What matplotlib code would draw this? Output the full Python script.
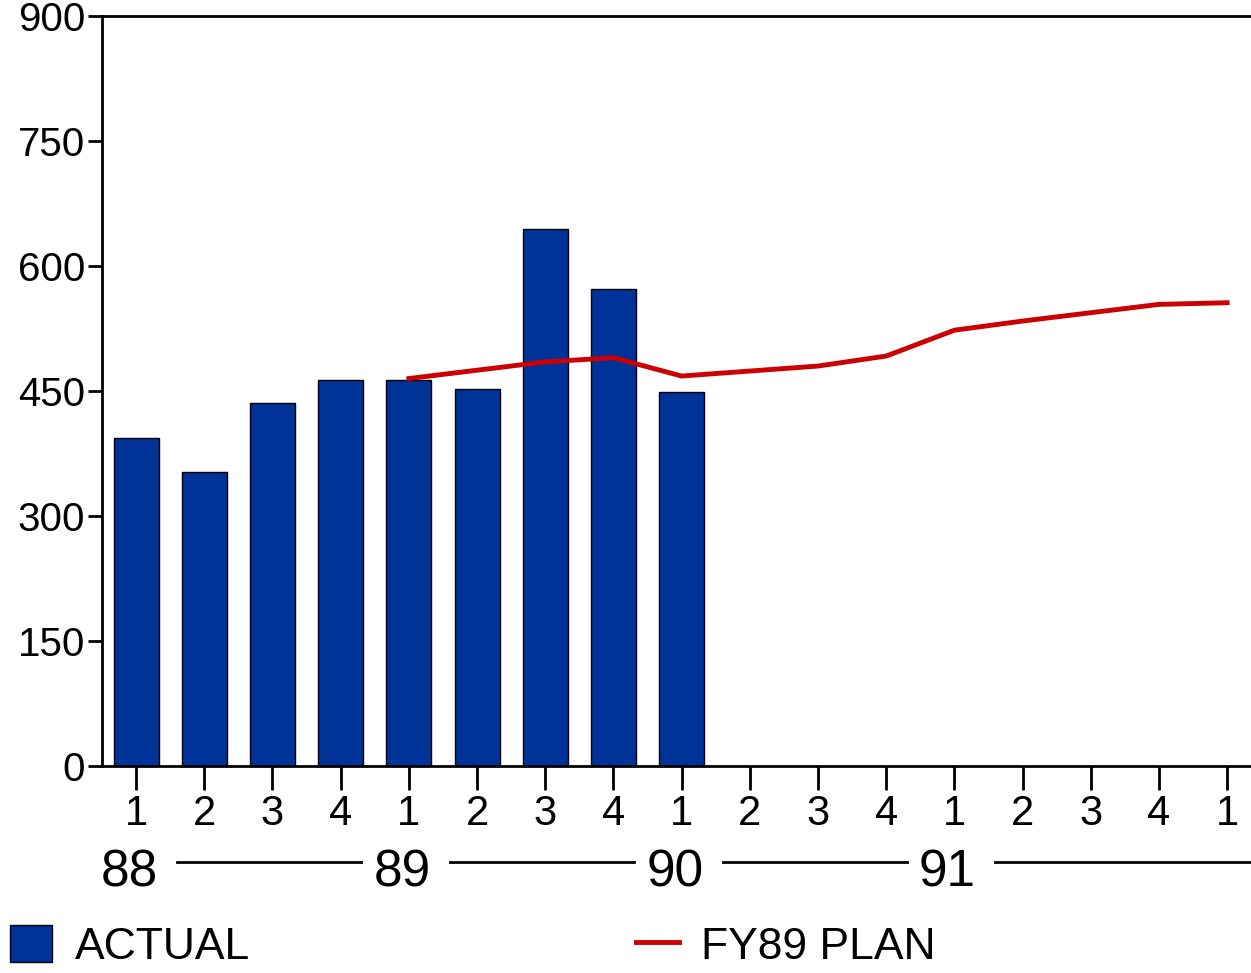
import matplotlib.pyplot as plt
from matplotlib.lines import Line2D
from matplotlib.patches import Patch
from matplotlib.transforms import blended_transform_factory

plt.rcParams["font.family"] = ["Liberation Sans Narrow", "Liberation Sans", "DejaVu Sans"]

# quarterly series, FY88 Q1 .. FY92 Q1
quarters = ["1", "2", "3", "4", "1", "2", "3", "4", "1", "2", "3", "4", "1", "2", "3", "4", "1"]
years = ["88", "89", "90", "91"]
year_start = [1, 5, 9, 13]

actual = [394, 353, 436, 463, 463, 453, 644, 572, 449]
plan_x = [5, 6, 7, 8, 9, 10, 11, 12, 13, 14, 15, 16, 17]
plan = [465, 475, 485, 490, 468, 474, 480, 492, 523, 534, 544, 554, 556]

BLUE = "#003399"
RED = "#cc0000"

fig = plt.figure(figsize=(12.51, 9.73), dpi=100)
ax = fig.add_axes([0.0815, 0.2127, 0.9267, 0.7708])

xs = list(range(1, len(quarters) + 1))
ax.bar(xs[:len(actual)], actual, width=0.66, color=BLUE, edgecolor="black", linewidth=1, zorder=2)
ax.plot(plan_x, plan, color=RED, linewidth=3.5, zorder=3)

ax.set_xlim(0.5, 17.5)
ax.set_ylim(0, 900)
ax.set_yticks(range(0, 901, 150))
ax.set_xticks(xs)
ax.set_xticklabels(quarters)

for side in ["left", "top", "bottom", "right"]:
    ax.spines[side].set_linewidth(2)
ax.tick_params(axis="y", direction="out", length=10, width=2, labelsize=29, pad=2)
ax.tick_params(axis="x", direction="out", length=17, width=2, labelsize=30, pad=3)

# fiscal year row with rules between the labels
trans = blended_transform_factory(ax.transData, ax.transAxes)
for yr, x0 in zip(years, year_start):
    ax.text(x0 - 0.1, -0.142, yr, transform=trans, ha="center", va="center",
            fontsize=37, clip_on=False)
for i, x0 in enumerate(year_start):
    x1 = x0 + 3.3 if i < len(year_start) - 1 else 18.5
    ax.plot([x0 + 0.6, x1], [-0.128, -0.128], transform=trans,
            color="black", linewidth=2, clip_on=False)

handles = [Patch(facecolor=BLUE, edgecolor="black", linewidth=1),
           Line2D([0], [0], color=RED, linewidth=3.5)]
fig.legend(handles, ["ACTUAL", "FY89 PLAN"], loc="center left",
           bbox_to_anchor=(0.008, 0.027), ncol=2, frameon=False, fontsize=32,
           handlelength=0.95, handleheight=0.9, handletextpad=0.5,
           columnspacing=8.7, borderpad=0, borderaxespad=0)

fig.savefig("out.png", dpi=100)
